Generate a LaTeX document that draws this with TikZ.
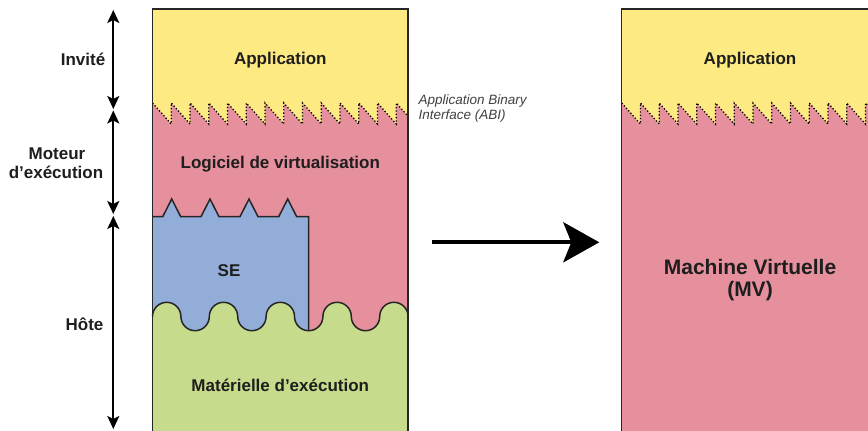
\documentclass[tikz,border=0pt]{standalone}
\usepackage{fontspec}
\setmainfont{Liberation Sans}
\usetikzlibrary{arrows.meta}
\definecolor{cYel}{HTML}{FEEA82}
\definecolor{cPink}{HTML}{E6909E}
\definecolor{cBlue}{HTML}{93ADD9}
\definecolor{cGreen}{HTML}{C6DB8B}
\definecolor{cLine}{HTML}{262626}
\definecolor{cText}{HTML}{1E1E1E}
\tikzset{
  lbl/.style={text=cText,font=\fontsize{17}{20}\selectfont\bfseries,inner sep=0pt,align=center},
  biglbl/.style={text=cText,font=\fontsize{21}{22.7}\selectfont\bfseries,inner sep=0pt,align=center},
  abilbl/.style={text=cText!85,font=\fontsize{13.5}{15.7}\selectfont\itshape,inner sep=0pt,align=left},
  border/.style={draw=cLine,line width=1.5pt},
  zig/.style={draw=black,line width=1.3pt,dotted},
  span/.style={line width=2pt,{Stealth[length=13pt,width=12pt,inset=3pt]}-{Stealth[length=13pt,width=12pt,inset=3pt]}},
  bigarrow/.style={line width=4pt,-{Stealth[length=36pt,width=40pt,inset=8pt]}}
}
\begin{document}
\begin{tikzpicture}[x=1pt,y=-1pt]
\useasboundingbox (0,0) rectangle (868,431);
\clip (0,0) rectangle (868,431);

% ---------- left column ----------
\fill[cPink] (152.5,9) rectangle (408.1,440);
\fill[cYel] (152.5,9) -- (152.5,103)
  \foreach \k in {1,...,13} { -- ({152.5+18.75*\k},124) -- ({152.5+18.75*\k},103) }
  -- (408.1,116.3) -- (408.1,9) -- cycle;
\draw[zig] (152.5,103)
  \foreach \k in {1,...,13} { -- ({152.5+18.75*\k},124) -- ({152.5+18.75*\k},103) }
  -- (408.1,116.3);
% SE box
\fill[cBlue] (152.5,216.7) -- (162.7,216.7) -- (171.7,199) -- (180.7,216.7)
  -- (201,216.7) -- (210,199) -- (219,216.7)
  -- (240,216.7) -- (249,199) -- (258,216.7)
  -- (278.7,216.7) -- (287.7,199) -- (296.7,216.7)
  -- (308.7,216.7) -- (308.7,340) -- (152.5,340) -- cycle;
\draw[border,line join=miter] (152.5,216.7) -- (162.7,216.7) -- (171.7,199) -- (180.7,216.7)
  -- (201,216.7) -- (210,199) -- (219,216.7)
  -- (240,216.7) -- (249,199) -- (258,216.7)
  -- (278.7,216.7) -- (287.7,199) -- (296.7,216.7)
  -- (308.7,216.7) -- (308.7,330.7);
% hardware (wave)
\fill[cGreen] (152.5,440) -- (152.5,316.5)
  \foreach \k in {1,...,4} { arc[start angle=180,end angle=0,radius=14.2pt] arc[start angle=180,end angle=360,radius=14.2pt] }
  arc[start angle=180,end angle=0,radius=14.2pt]
  -- (408.1,440) -- cycle;
\draw[border] (152.5,316.5)
  \foreach \k in {1,...,4} { arc[start angle=180,end angle=0,radius=14.2pt] arc[start angle=180,end angle=360,radius=14.2pt] }
  arc[start angle=180,end angle=0,radius=14.2pt];
% outer border
\draw[border] (152.5,440) -- (152.5,9) -- (408.1,9) -- (408.1,440);

% ---------- right column ----------
\fill[cPink] (621.7,9) rectangle (900,440);
\fill[cYel] (621.7,9) -- (621.7,103)
  \foreach \k in {1,...,14} { -- ({621.7+18.75*\k},124) -- ({621.7+18.75*\k},103) }
  -- (900,103) -- (900,9) -- cycle;
\draw[zig] (621.7,103)
  \foreach \k in {1,...,14} { -- ({621.7+18.75*\k},124) -- ({621.7+18.75*\k},103) };
\draw[border] (621.7,440) -- (621.7,9) -- (900,9);

% ---------- labels ----------
\node[lbl,anchor=base] (appL) at (280.3,64) {Application};
\node[lbl,anchor=base] (logi) at (280.3,168.7) {Logiciel de virtualisation};
\node[lbl,anchor=base] (se) at (229,276) {SE};
\node[lbl,anchor=base] (mat) at (280.3,391) {Matérielle d’exécution};
\node[lbl,anchor=base] (appR) at (750,64) {Application};
\node[biglbl,anchor=base] (mv1) at (750,274) {Machine Virtuelle};
\node[biglbl,anchor=base] (mv2) at (750,296.7) {(MV)};
\node[abilbl,anchor=base west] (abi1) at (418.5,104) {Application Binary};
\node[abilbl,anchor=base west] (abi2) at (418.5,119.7) {Interface (ABI)};

\node[lbl,anchor=base] (inv) at (83,65) {Invité};
\node[lbl,anchor=base] (mot1) at (57,159) {Moteur};
\node[lbl,anchor=base] (mot2) at (56,178.5) {d’exécution};
\node[lbl,anchor=base] (hote) at (84.5,330) {Hôte};

% ---------- arrows ----------
\coordinate (a1t) at (113.3,10);
\coordinate (a1b) at (113.3,109);
\coordinate (a2t) at (113.3,110.5);
\coordinate (a2b) at (113.3,214);
\coordinate (a3t) at (113.3,216);
\coordinate (a3b) at (113.3,429);
\draw[span] (a1t) -- (a1b);
\draw[span] (a2t) -- (a2b);
\draw[span] (a3t) -- (a3b);

\coordinate (bs) at (431.7,242.3);
\coordinate (be) at (599.3,242.3);
\draw[bigarrow] (bs) -- (be);
\end{tikzpicture}
\end{document}
